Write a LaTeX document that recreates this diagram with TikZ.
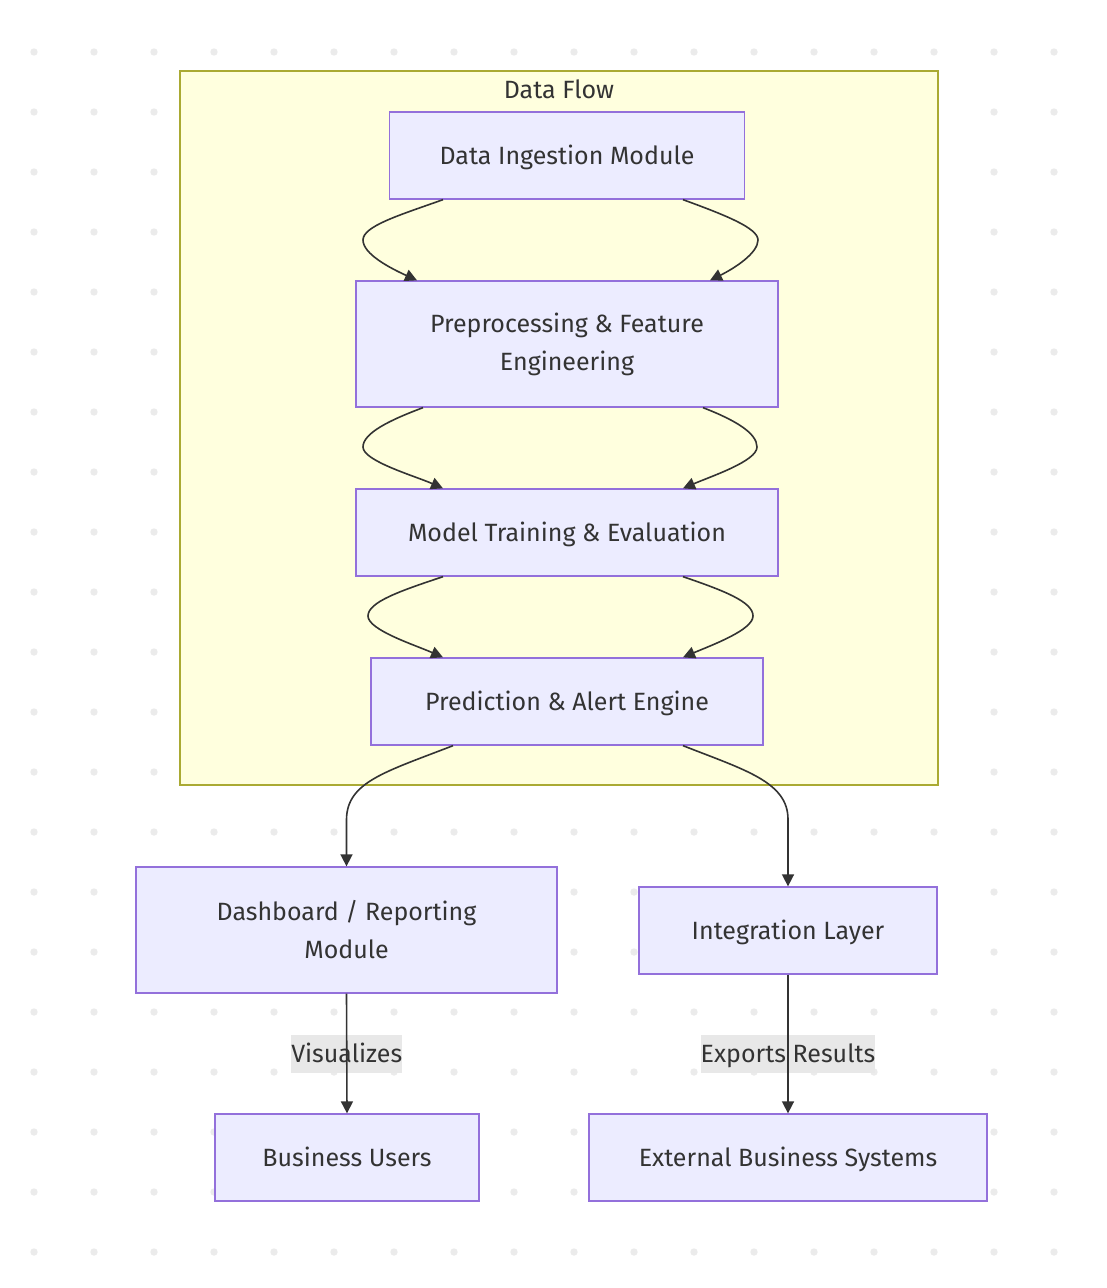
\documentclass[tikz,border=0pt]{standalone}
\usepackage{fontspec}
\setmainfont{Fira Sans}
\usetikzlibrary{arrows.meta,calc}
\definecolor{nodefill}{HTML}{ECECFF}
\definecolor{nodeborder}{HTML}{9370DB}
\definecolor{clusterfill}{HTML}{FFFFDE}
\definecolor{clusterborder}{HTML}{AAAA33}
\definecolor{edgec}{HTML}{333333}
\definecolor{lblbg}{HTML}{E8E8E8}
\definecolor{dotc}{HTML}{EBEBEB}
\begin{document}
\begin{tikzpicture}[x=1pt,y=-1pt,
  every node/.style={font=\fontsize{25}{38}\selectfont, text=edgec},
  box/.style={draw=nodeborder, fill=nodefill, line width=1.3pt, inner sep=0pt, align=center},
  oneline/.style={text height=20pt, text depth=3pt},
  cluster/.style={draw=clusterborder, fill=clusterfill, line width=1.3pt, inner sep=0pt},
  lbl/.style={fill=lblbg, inner xsep=0pt, inner ysep=0pt, minimum height=38pt, text height=20pt, text depth=3pt},
  edge/.style={draw=edgec, line width=1.6pt, -{Triangle[length=12pt,width=12pt]}}]
\useasboundingbox (0,0) rectangle (1106,1288);
\fill[white] (0,0) rectangle (1106,1288);
% dot grid
\foreach \i in {0,...,17} {
  \foreach \j in {0,...,20} {
    \fill[dotc] ({34+60*\i},{52+60*\j}) circle[radius=3.7pt];
  }
}
% cluster
\node[cluster, minimum width=758pt, minimum height=714pt] (df) at (559,428) {};
\node[oneline] (dftitle) at (559,90) {Data Flow};
% nodes
\node[box, oneline, minimum width=355pt, minimum height=87pt] (ing) at (567,155.5) {Data Ingestion Module};
\node[box, minimum width=422pt, minimum height=126pt] (pre) at (567,344) {Preprocessing \& Feature\\Engineering};
\node[box, oneline, minimum width=422pt, minimum height=87pt] (mod) at (567,532.5) {Model Training \& Evaluation};
\node[box, oneline, minimum width=392pt, minimum height=87pt] (pred) at (567,701.5) {Prediction \& Alert Engine};
\node[box, minimum width=421pt, minimum height=126pt] (dash) at (346.5,930) {Dashboard / Reporting\\Module};
\node[box, oneline, minimum width=298pt, minimum height=87pt] (integ) at (788,930.5) {Integration Layer};
\node[box, oneline, minimum width=264pt, minimum height=87pt] (users) at (347,1157.5) {Business Users};
\node[box, oneline, minimum width=398pt, minimum height=87pt] (ext) at (788,1157.5) {External Business Systems};
% edge labels (behind the lines)
\node[lbl] (l1) at ($(dash.south)!0.5!(users.north)$) {Visualizes};
\node[lbl] (l2) at (integ.south |- l1) {Exports Results};
% edges
\draw[edge] ($(ing.south)+(-124,0)$) .. controls (400,215) and (363,226) .. (363,240) .. controls (363,254) and (390,268) .. ($(pre.north)+(-150,0)$);
\draw[edge] ($(ing.south)+(116,0)$) .. controls (725,215) and (758,228) .. (758,240) .. controls (758,253) and (735,268) .. ($(pre.north)+(143,0)$);
\draw[edge] ($(pre.south)+(-144,0)$) .. controls (390,420) and (363,433) .. (363,447) .. controls (363,461) and (415,476) .. ($(mod.north)+(-124,0)$);
\draw[edge] ($(pre.south)+(136,0)$) .. controls (735,420) and (757,433) .. (757,447) .. controls (757,461) and (712,476) .. ($(mod.north)+(116,0)$);
\draw[edge] ($(mod.south)+(-124,0)$) .. controls (400,591) and (368,602) .. (368,616) .. controls (368,630) and (415,645) .. ($(pred.north)+(-124,0)$);
\draw[edge] ($(mod.south)+(116,0)$) .. controls (725,591) and (753,602) .. (753,616) .. controls (753,630) and (712,645) .. ($(pred.north)+(116,0)$);
\draw[edge] ($(pred.south)+(-114,0)$) .. controls (385,772) and (347,782) .. ($(dash.north)+(0,-47)$) -- (dash.north);
\draw[edge] ($(pred.south)+(116,0)$) .. controls (745,770) and (788,782) .. ($(integ.north)+(0,-67)$) -- (integ.north);
\draw[edge] (dash.south) -- (users.north);
\draw[edge] (integ.south) -- (ext.north);
\end{tikzpicture}
\end{document}
